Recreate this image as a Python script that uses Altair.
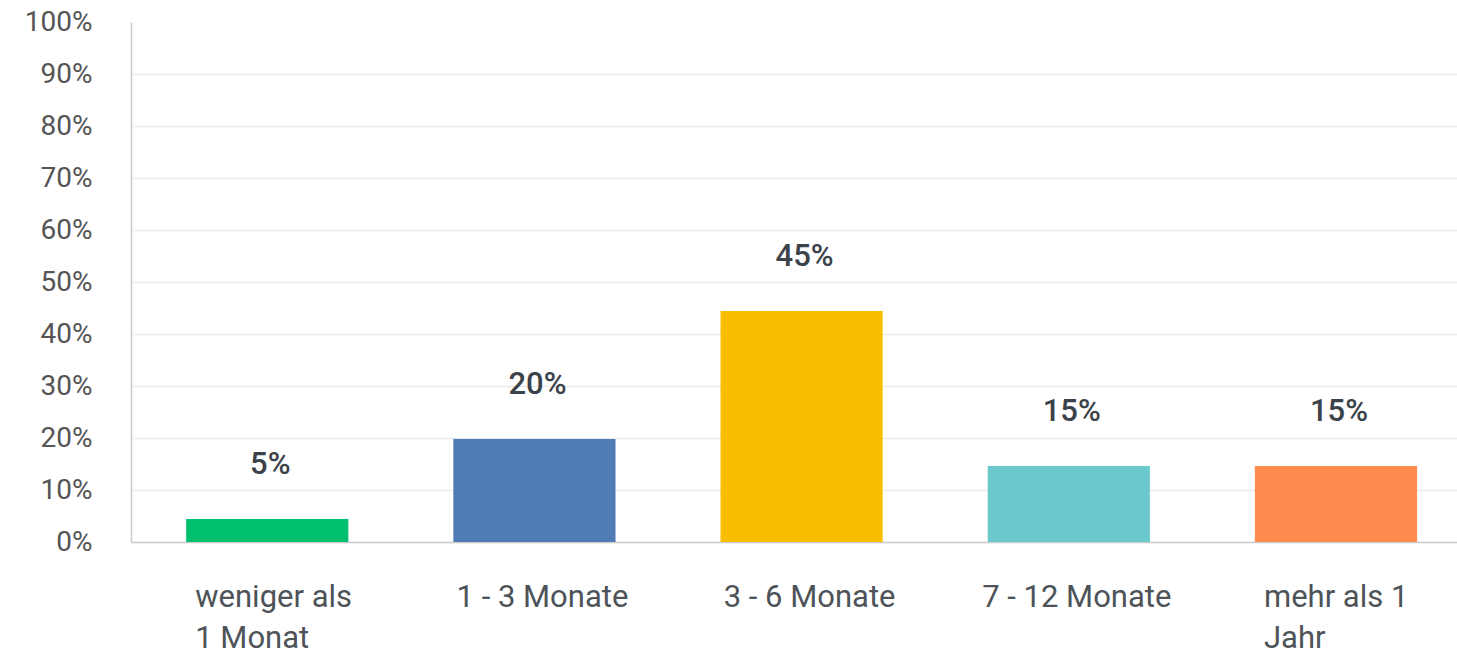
import altair as alt
import pandas as pd

categories = ["weniger als 1 Monat", "1 - 3 Monate", "3 - 6 Monate", "7 - 12 Monate", "mehr als 1 Jahr"]
shares = [0.044, 0.198, 0.444, 0.146, 0.146]
share_labels = ["5%", "20%", "45%", "15%", "15%"]
bar_colors = ["#00BF6F", "#507CB6", "#F9BE00", "#6BC8CD", "#FF8B4F"]
y_ticks = [0, 0.1, 0.2, 0.3, 0.4, 0.5, 0.6, 0.7, 0.8, 0.9, 1.0]
wrapped = {"weniger als 1 Monat": ["weniger als", "1 Monat"], "mehr als 1 Jahr": ["mehr als 1", "Jahr"]}

df = pd.DataFrame({"cat": categories, "share": shares, "label": share_labels})

label_expr = ""
for k, v in wrapped.items():
    label_expr += "datum.label == '%s' ? ['%s', '%s'] : " % (k, v[0], v[1])
label_expr += "datum.label"
wrap_test = "indexof([%s], datum.value) >= 0" % ", ".join("'%s'" % k for k in wrapped)

x = alt.X(
    "cat:N",
    sort=categories,
    scale=alt.Scale(paddingInner=0.393, paddingOuter=0.178, align=0.58),
    axis=alt.Axis(
        title=None, ticks=False, domainColor="#cccccc", domainWidth=1.5,
        labelAngle=0, labelFont="Roboto", labelFontSize=31, labelColor="#4d5358",
        labelPadding=40, labelBaseline="top", labelLineHeight=41,
        labelLimit=500, labelOverlap=False, labelBound=False, labelFlush=False,
        labelExpr=label_expr,
        labelAlign={"condition": {"test": wrap_test, "value": "left"}, "value": "center"},
        labelOffset={"condition": {"test": wrap_test, "value": -72}, "value": 8},
    ),
)

y = alt.Y(
    "share:Q",
    scale=alt.Scale(domain=[0, 1]),
    axis=alt.Axis(
        title=None, values=y_ticks, format=".0%", ticks=False,
        domainColor="#cccccc", domainWidth=1.5,
        gridColor={"condition": {"test": "datum.value >= 1", "value": "#ffffff"}, "value": "#ebebeb"},
        gridWidth=1.5,
        labelFont="Roboto", labelFontSize=28, labelColor="#555555", labelPadding=39,
    ),
)

bars = alt.Chart(df).mark_bar().encode(
    x=x,
    y=y,
    color=alt.Color("cat:N", scale=alt.Scale(domain=categories, range=bar_colors), legend=None),
)

texts = alt.Chart(df).mark_text(
    dy=-45, dx=3, baseline="alphabetic", align="center",
    font="Roboto", fontSize=31, fontWeight=500, color="#3b4249",
).encode(
    x=alt.X("cat:N", sort=categories),
    y=alt.Y("share:Q"),
    text="label:N",
)

chart = (
    alt.layer(bars, texts)
    .properties(
        width=1326, height=520,
        autosize=alt.AutoSizeParams(type="none"),
        padding={"left": 131, "top": 22, "right": 0, "bottom": 114},
        background="white",
    )
    .configure_view(stroke=None)
)

chart.save("out.html", embed_options={"renderer": "svg", "actions": False})
